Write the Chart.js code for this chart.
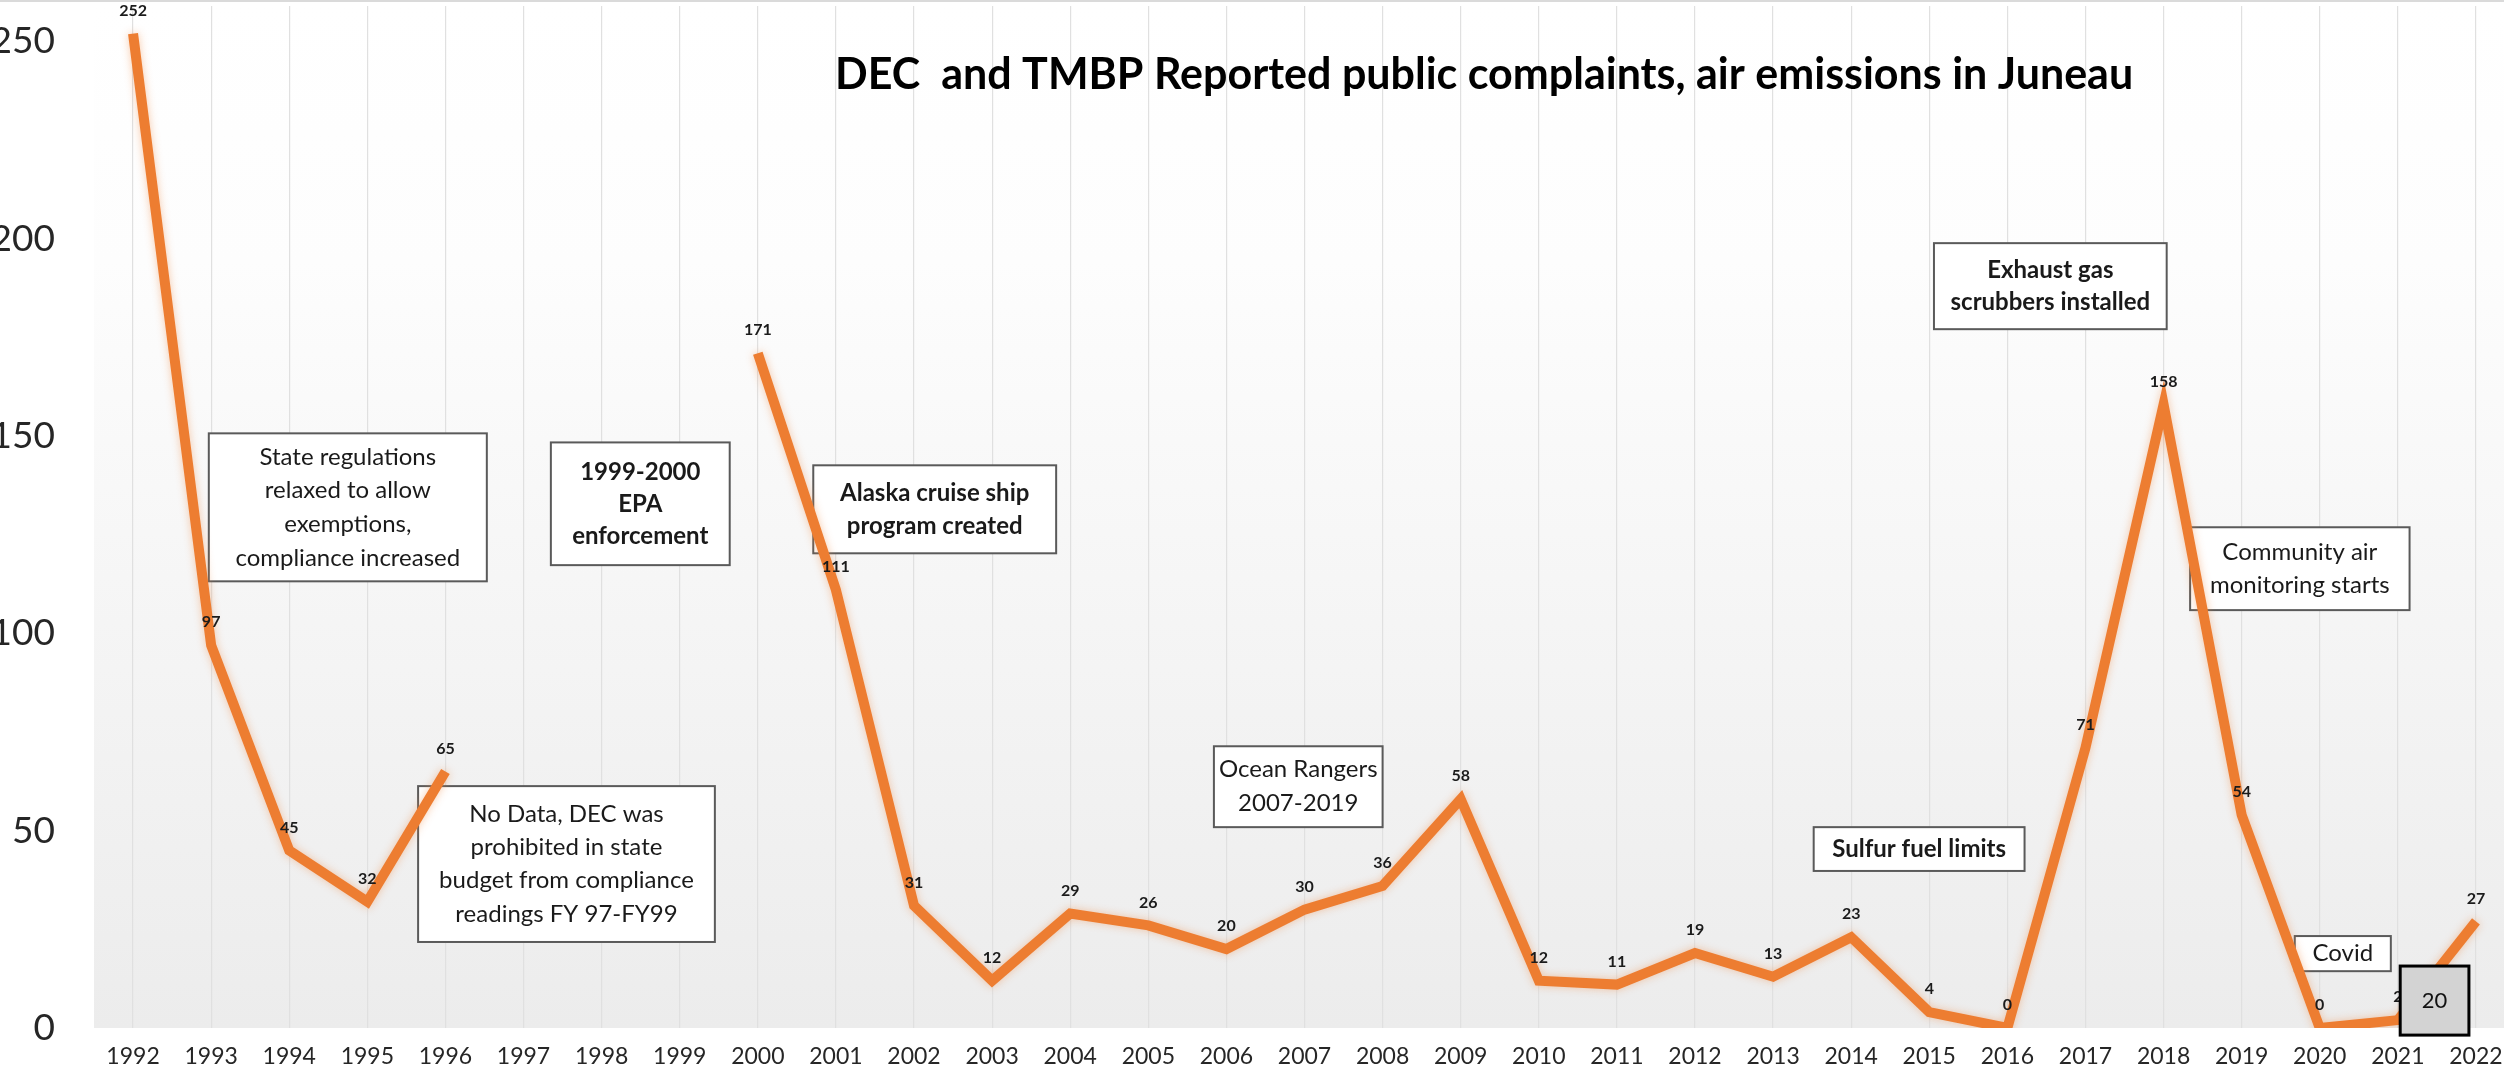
<!DOCTYPE html>
<html><head><meta charset="utf-8">
<script src="https://cdn.jsdelivr.net/npm/chart.js@4.4.1/dist/chart.umd.min.js"></script>
<style>
html,body{margin:0;padding:0;background:#fff;overflow:hidden;width:2504px;height:1070px;}
#wrap{position:absolute;left:0;top:0;width:2515px;height:1070px;}
</style></head><body>
<div id="wrap"><canvas id="c"></canvas></div>
<script>
// ---- data ----
const years = ['1992','1993','1994','1995','1996','1997','1998','1999','2000','2001','2002','2003','2004','2005','2006','2007','2008','2009','2010','2011','2012','2013','2014','2015','2016','2017','2018','2019','2020','2021','2022'];
const complaints = [252,97,45,32,65,null,null,null,171,111,31,12,29,26,20,30,36,58,12,11,19,13,23,4,0,71,158,54,0,2,27];
const yTickValues = [0,50,100,150,200,250];
const titleText = 'DEC  and TMBP Reported public complaints, air emissions in Juneau';
const noteTexts = [
  ['State regulations','relaxed to allow','exemptions,','compliance increased'],
  ['1999-2000','EPA','enforcement'],
  ['Alaska cruise ship','program created'],
  ['No Data, DEC was','prohibited in state','budget from compliance','readings FY 97-FY99'],
  ['Ocean Rangers','2007-2019'],
  ['Exhaust gas','scrubbers installed'],
  ['Community air','monitoring starts'],
  ['Sulfur fuel limits'],
  ['Covid']
];
const pageNumber = '20';

// ---- layout (in data units: category index / value) ----
const noteLayout = [
  {x0:0.97, x1:4.53, y0:113.2, y1:150.7, bold:false, lh:33.7},
  {x0:5.35, x1:7.64, y0:117.3, y1:148.4, bold:true,  lh:32},
  {x0:8.71, x1:11.82,y0:120.3, y1:142.6, bold:true,  lh:33},
  {x0:3.65, x1:7.45, y0:21.8,  y1:61.3,  bold:false, lh:33.3},
  {x0:13.84,x1:16.0, y0:50.9,  y1:71.4,  bold:false, lh:34},
  {x0:23.06,x1:26.04,y0:177.1, y1:198.9, bold:true,  lh:32},
  {x0:26.34,x1:29.15,y0:105.9, y1:126.9, bold:false, lh:33},
  {x0:21.52,x1:24.22,y0:39.8,  y1:50.9,  bold:true,  lh:33},
  {x0:27.68,x1:28.91,y0:14.4,  y1:23.3,  bold:false, lh:33}
];
const pageBox = {x0:29.03, x1:29.91, y0:-1.8, y1:15.7};
const titlePos = {x:17.3, y:241.5};

const FONT = 'Lato, "Open Sans", sans-serif';

function idxToPx(chart, v){ return chart.scales.x.getPixelForValue(v); }
function valToPx(chart, v){ return chart.scales.y.getPixelForValue(v); }

const decor = {
  id:'decor',
  beforeDraw(chart){
    const ctx = chart.ctx, a = chart.chartArea;
    const g = ctx.createLinearGradient(0,a.top,0,a.bottom);
    g.addColorStop(0,'#ffffff');
    g.addColorStop(0.25,'#fdfdfd');
    g.addColorStop(1,'#ececec');
    ctx.save();
    ctx.fillStyle = g;
    ctx.fillRect(a.left,a.top,a.right-a.left,a.bottom-a.top);
    ctx.restore();
  },
  beforeDatasetsDraw(chart){
    const ctx = chart.ctx;
    noteLayout.forEach((n,i)=>{
      const l = idxToPx(chart,n.x0), r = idxToPx(chart,n.x1);
      const t = valToPx(chart,n.y1), b = valToPx(chart,n.y0);
      ctx.save();
      ctx.fillStyle = '#ffffff';
      ctx.fillRect(l,t,r-l,b-t);
      ctx.strokeStyle = '#5a5a5a'; ctx.lineWidth = 2;
      ctx.strokeRect(l,t,r-l,b-t);
      ctx.fillStyle = '#1a1a1a';
      ctx.font = (n.bold?'bold ':'') + '24px ' + FONT;
      ctx.textAlign = 'center'; ctx.textBaseline = 'middle';
      const lines = noteTexts[i];
      const cx = (l+r)/2, cy = (t+b)/2;
      lines.forEach((s,k)=>{
        ctx.fillText(s, cx, cy + (k-(lines.length-1)/2)*n.lh);
      });
      ctx.restore();
    });
    ctx.save();
    ctx.fillStyle = '#000';
    ctx.font = 'bold 43px ' + FONT;
    ctx.textAlign='center'; ctx.textBaseline='middle';
    ctx.fillText(titleText, idxToPx(chart,titlePos.x), valToPx(chart,titlePos.y));
    ctx.restore();
    ctx.save();
    ctx.shadowColor = 'rgba(240,140,70,0.45)';
    ctx.shadowBlur = 8;
  },
  afterDatasetsDraw(chart){
    const ctx = chart.ctx;
    ctx.restore();
    const meta = chart.getDatasetMeta(0);
    ctx.save();
    ctx.font = 'bold 16px ' + FONT;
    ctx.fillStyle = '#1b1b1b';
    ctx.textAlign='center'; ctx.textBaseline='middle';
    meta.data.forEach((pt,i)=>{
      const v = complaints[i];
      if(v===null || v===undefined) return;
      ctx.fillText(String(v), pt.x, pt.y - 23);
    });
    ctx.restore();
  },
  afterDraw(chart){
    const ctx = chart.ctx;
    const l = idxToPx(chart,pageBox.x0), r = idxToPx(chart,pageBox.x1);
    const t = valToPx(chart,pageBox.y1), b = valToPx(chart,pageBox.y0);
    ctx.save();
    ctx.fillStyle = '#d3d3d3';
    ctx.fillRect(l,t,r-l,b-t);
    ctx.strokeStyle = '#000'; ctx.lineWidth = 3;
    ctx.strokeRect(l,t,r-l,b-t);
    ctx.fillStyle = '#111';
    ctx.font = '22px ' + FONT;
    ctx.textAlign='center'; ctx.textBaseline='middle';
    ctx.fillText(pageNumber,(l+r)/2,(t+b)/2);
    ctx.restore();
    ctx.save();
    ctx.fillStyle = '#dadada';
    ctx.fillRect(0,0,chart.width,2);
    ctx.restore();
  }
};

new Chart(document.getElementById('c'), {
  type:'line',
  data:{
    labels: years,
    datasets:[{
      data: complaints,
      borderColor:'#ED7D31',
      borderWidth:10,
      pointRadius:0,
      pointHoverRadius:0,
      spanGaps:false,
      tension:0,
      fill:false
    }]
  },
  options:{
    responsive:true,
    maintainAspectRatio:false,
    devicePixelRatio:1,
    animation:false,
    layout:{padding:{top:6,left:0,right:0,bottom:0}},
    plugins:{legend:{display:false}, tooltip:{enabled:false}, title:{display:false}},
    scales:{
      x:{
        type:'category',
        offset:true,
        grid:{display:true, color:'#e0e0e0', lineWidth:1.2, drawTicks:false, offset:false},
        border:{display:false},
        ticks:{font:{family:FONT,size:23}, color:'#262626', padding:15, maxRotation:0, autoSkip:false},
        afterFit(s){ s.height = 42; s.paddingLeft = 0; s.paddingRight = 0; }
      },
      y:{
        min:0, max:259,
        grid:{display:false, drawTicks:false},
        border:{display:false},
        ticks:{stepSize:50, font:{family:FONT,size:37}, color:'#262626', padding:39},
        afterBuildTicks(s){ s.ticks = yTickValues.map(v=>({value:v})); },
        afterFit(s){ s.width = 94; s.paddingTop = 0; s.paddingBottom = 0; }
      }
    }
  },
  plugins:[decor]
});
</script>
</body></html>
